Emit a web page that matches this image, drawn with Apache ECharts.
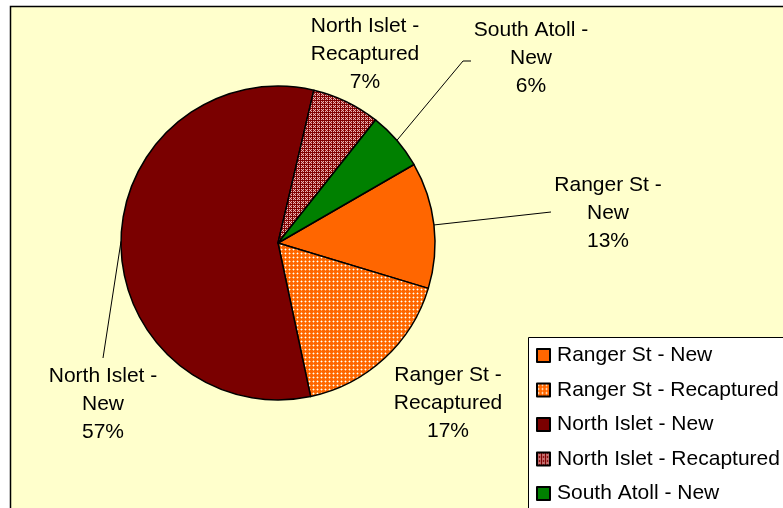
<!DOCTYPE html>
<html>
<head>
<meta charset="utf-8">
<script src="https://cdn.jsdelivr.net/npm/echarts@6/dist/echarts.min.js"></script>
<style>html,body{margin:0;padding:0;background:#fff;}#c{width:783px;height:508px;}</style>
</head>
<body>
<div id="c"></div>
<script>
const categories = ['Ranger St - New', 'Ranger St - Recaptured', 'North Islet - New', 'North Islet - Recaptured', 'South Atoll - New'];
const values = [13, 17, 57, 7, 6];

function makeTile(size, painter) {
  const c = document.createElement('canvas');
  c.width = size; c.height = size;
  const ctx = c.getContext('2d');
  for (let y = 0; y < size; y++) for (let x = 0; x < size; x++) {
    ctx.fillStyle = painter(x, y);
    ctx.fillRect(x, y, 1, 1);
  }
  return c;
}
const orangeDots = makeTile(4, (x, y) => {
  if (x === 1 && y === 1) return '#FFFFFF';
  if ((x === 1 && (y === 0 || y === 2)) || (y === 1 && (x === 0 || x === 2))) return '#FFA860';
  return '#FF6600';
});
const maroonCheck = makeTile(4, (x, y) => {
  if (x === 0 || y === 0) return '#800000';
  if ((x + y) % 2 === 0) return '#E8B8B8';
  return '#A02020';
});

const colors = [
  '#FF6600',
  { image: orangeDots, repeat: 'repeat' },
  '#7A0000',
  { image: maroonCheck, repeat: 'repeat' },
  '#008000'
];

const labelPos = [
  { x: 608, y: 213, line: [[551, 212]] },
  { x: 448, y: 403 },
  { x: 103, y: 404, line: [[103, 358]] },
  { x: 365, y: 54 },
  { x: 531, y: 58, line: [[463, 61], [471, 61]] }
];

const data = categories.map((n, i) => ({
  name: n,
  value: values[i],
  itemStyle: { color: colors[i] },
  labelLine: { show: !!labelPos[i].line }
}));

const chart = echarts.init(document.getElementById('c'), null, { renderer: 'canvas' });
chart.setOption({
  animation: false,
  backgroundColor: '#FFFFFF',
  graphic: [{
    type: 'rect', z: -10, silent: true,
    shape: { x: 10.5, y: 6.5, width: 800, height: 600 },
    style: { fill: '#FFFFCC', stroke: '#000', lineWidth: 1.5 }
  }, {
    type: 'rect', z: 1, silent: true,
    shape: { x: 528.5, y: 337.5, width: 400, height: 300 },
    style: { fill: '#FFFFFF', stroke: '#000', lineWidth: 1 }
  }],
  legend: {
    orient: 'vertical',
    left: 528, top: 337,
    padding: [8, 8, 0, 8],
    itemWidth: 13, itemHeight: 13, itemGap: 13.5,
    icon: 'rect',
    textStyle: { fontFamily: 'Liberation Sans, Arial', fontSize: 21, lineHeight: 21, color: '#000', padding: [0, 0, 0, 2] },
    data: categories
  },
  series: [{
    type: 'pie',
    center: [278, 243],
    radius: 157,
    startAngle: 30,
    clockwise: true,
    avoidLabelOverlap: false,
    emphasis: { disabled: true },
    itemStyle: { borderColor: '#000', borderWidth: 1.5 },
    label: {
      show: true,
      position: 'outside',
      fontFamily: 'Liberation Sans, Arial',
      fontSize: 21,
      lineHeight: 28,
      color: '#000',
      align: 'center',
      formatter: function (p) {
        const parts = p.name.split(' - ');
        return parts[0] + ' -\n' + parts[1] + '\n' + p.value + '%';
      }
    },
    labelLine: { show: true, smooth: false, lineStyle: { color: '#000', width: 1 } },
    labelLayout: function (params) {
      const lp = labelPos[params.dataIndex];
      const out = { x: lp.x, y: lp.y, align: 'center', verticalAlign: 'middle' };
      if (lp.line && params.labelLinePoints) {
        out.labelLinePoints = [params.labelLinePoints[0]].concat(lp.line);
      }
      return out;
    },
    data: data
  }]
});
</script>
</body>
</html>
